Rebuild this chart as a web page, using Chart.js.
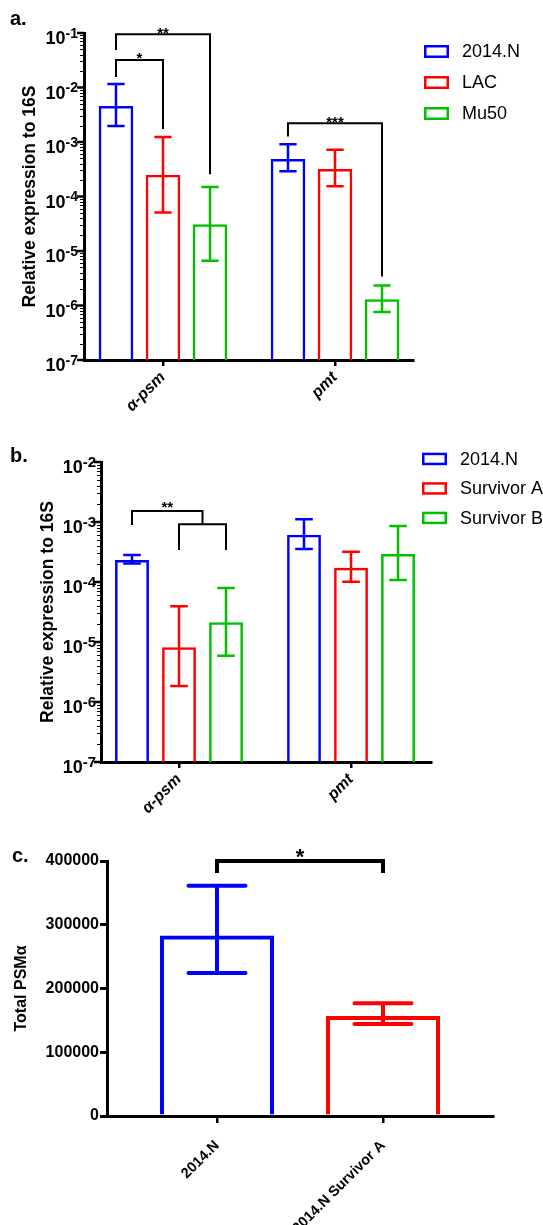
<!DOCTYPE html>
<html><head><meta charset="utf-8">
<script src="https://cdn.jsdelivr.net/npm/chart.js@4.4.1/dist/chart.umd.min.js"></script>
<style>
html,body{margin:0;padding:0;background:#fff;}
#wrap{position:relative;width:543px;height:1225px;overflow:hidden;background:#fff;}
canvas{position:absolute;left:0;}
</style></head><body>
<div id="wrap">
<canvas id="ca" width="543" height="430" style="top:0px"></canvas>
<canvas id="cb" width="543" height="420" style="top:410px"></canvas>
<canvas id="cc" width="543" height="425" style="top:800px"></canvas>
</div>
<script>
// ---------- Panel a data ----------
const genesA = ['α-psm', 'pmt'];
const strainsA = ['2014.N', 'LAC', 'Mu50'];
const a2014N = [4.6e-3, 4.9e-4];
const a2014NLow = [1.97e-3, 2.9e-4];
const a2014NHigh = [1.16e-2, 9.1e-4];
const aLAC = [2.5e-4, 3.2e-4];
const aLACLow = [5.1e-5, 1.55e-4];
const aLACHigh = [1.24e-3, 7.2e-4];
const aMu50 = [3.1e-5, 1.3e-6];
const aMu50Low = [6.6e-6, 7.6e-7];
const aMu50High = [1.5e-4, 2.34e-6];
const logTickExpA = [-7, -6, -5, -4, -3, -2, -1];
const bracketsA = [
  {label: '*', left: [0, 0], right: [0, 1], line: 3.2e-2, leftEnd: 1.56e-2, rightEnd: 1.74e-3},
  {label: '**', left: [0, 0], right: [0, 2], line: 9.5e-2, leftEnd: 4.9e-2, rightEnd: 2.57e-4},
  {label: '***', left: [1, 0], right: [1, 2], line: 2.2e-3, leftEnd: 1.26e-3, rightEnd: 3.4e-6}
];

// ---------- Panel b data ----------
const genesB = ['α-psm', 'pmt'];
const strainsB = ['2014.N', 'Survivor A', 'Survivor B'];
const b2014N = [2.33e-4, 6.15e-4];
const b2014NLow = [2.04e-4, 3.55e-4];
const b2014NHigh = [2.82e-4, 1.11e-3];
const bSurvA = [8.15e-6, 1.73e-4];
const bSurvALow = [1.85e-6, 1.01e-4];
const bSurvAHigh = [3.93e-5, 3.2e-4];
const bSurvB = [2.13e-5, 2.93e-4];
const bSurvBLow = [5.9e-6, 1.08e-4];
const bSurvBHigh = [7.94e-5, 8.58e-4];
const logTickExpB = [-7, -6, -5, -4, -3, -2];
const bracketsB = [
  {label: '', left: [0, 1], right: [0, 2], line: 9.16e-4, leftEnd: 3.41e-4, rightEnd: 3.41e-4},
  {label: '**', left: [0, 0], right: [0, [1, 2]], line: 1.52e-3, leftEnd: 8.9e-4, rightEnd: 9.16e-4}
];

// ---------- Panel c data ----------
const strainsC = ['2014.N', '2014.N Survivor A'];
const totalPSM = [283000, 157000];
const totalPSMLow = [224500, 144400];
const totalPSMHigh = [361000, 177000];
const ticksC = [0, 100000, 200000, 300000, 400000];
const bracketsC = [
  {label: '*', left: [0, 0], right: [1, 0], line: 400000, leftEnd: 381000, rightEnd: 381000}
];

const BLUE = '#0000FF', RED = '#FF0000', GREEN = '#00C000';
const FAM = '"Liberation Sans", Arial, Helvetica, sans-serif';
Chart.defaults.font.family = FAM;
Chart.defaults.color = '#000';

function xy(vals) { return vals.map((v, i) => ({x: i + 1, y: v})); }

function ds(label, vals, lo, hi, color, bw) {
  return {label, data: xy(vals), errLow: lo, errHigh: hi, backgroundColor: 'rgba(255,255,255,0)',
    borderColor: color, borderWidth: bw, borderSkipped: 'start'};
}

function catAxis(cats, min, max, height, font, pad, tickLen) {
  return {
    type: 'linear', min, max, offset: false,
    afterBuildTicks(s) { s.ticks = cats.map((c, i) => ({value: i + 1})); },
    afterFit(s) { s.height = height; },
    ticks: {autoSkip: false, maxRotation: 45, minRotation: 45, color: '#000', font, padding: pad,
      callback: (v) => cats[Math.round(v) - 1] ?? ''},
    grid: {display: true, drawOnChartArea: false, drawTicks: true, tickLength: tickLen, tickWidth: 2.5,
      tickColor: '#000', lineWidth: 2.5, color: '#000', offset: false},
    border: {display: true, width: 3, color: '#000'}
  };
}

function logAxis(min, max, width, titlePad) {
  return {
    type: 'logarithmic', min, max,
    afterFit(s) { s.width = width; },
    ticks: {display: false},
    grid: {display: false},
    border: {display: true, width: 3, color: '#000'},
    title: {display: true, text: 'Relative expression to 16S', color: '#000',
      font: {size: 17.5, weight: 'bold'}, padding: {top: titlePad, bottom: 0}}
  };
}

function colorAt(c, i) { return Array.isArray(c) ? c[i % c.length] : c; }

// decorations: error bars, brackets, log tick labels, legend, panel letter
function makeDecor(cfg) {
  return {
    id: 'decor',
    afterDatasetsDraw(chart) {
      const ctx = chart.ctx, y = chart.scales.y;
      // error bars
      chart.data.datasets.forEach((d, di) => {
        const meta = chart.getDatasetMeta(di);
        meta.data.forEach((bar, i) => {
          const x = bar.x, w = bar.width * cfg.capFrac;
          const yl = y.getPixelForValue(d.errLow[i]), yh = y.getPixelForValue(d.errHigh[i]);
          ctx.save();
          ctx.strokeStyle = colorAt(d.borderColor, i); ctx.lineWidth = cfg.errWidth; ctx.lineCap = cfg.cap || 'butt';
          ctx.beginPath();
          ctx.moveTo(x, yl); ctx.lineTo(x, yh);
          ctx.moveTo(x - w / 2, yl); ctx.lineTo(x + w / 2, yl);
          ctx.moveTo(x - w / 2, yh); ctx.lineTo(x + w / 2, yh);
          ctx.stroke(); ctx.restore();
        });
      });
      // brackets
      const xOf = (ref) => {
        const cat = ref[0], list = Array.isArray(ref[1]) ? ref[1] : [ref[1]];
        let s = 0; list.forEach(k => { s += chart.getDatasetMeta(k).data[cat].x; });
        return s / list.length;
      };
      cfg.brackets.forEach(b => {
        const x1 = xOf(b.left), x2 = xOf(b.right);
        const yl = y.getPixelForValue(b.line), y1 = y.getPixelForValue(b.leftEnd), y2 = y.getPixelForValue(b.rightEnd);
        ctx.save();
        ctx.strokeStyle = '#000'; ctx.lineWidth = cfg.brWidth; ctx.lineJoin = 'miter'; ctx.lineCap = 'butt';
        ctx.beginPath(); ctx.moveTo(x1, y1); ctx.lineTo(x1, yl); ctx.lineTo(x2, yl); ctx.lineTo(x2, y2); ctx.stroke();
        if (b.label) {
          ctx.fillStyle = '#000'; ctx.font = cfg.starFont; ctx.textAlign = 'center'; ctx.textBaseline = 'alphabetic';
          ctx.fillText(b.label, (x1 + x2) / 2, yl + cfg.starDy);
        }
        ctx.restore();
      });
    },
    afterDraw(chart) {
      const ctx = chart.ctx, y = chart.scales.y, x0 = chart.chartArea.left;
      ctx.save();
      ctx.fillStyle = '#000'; ctx.strokeStyle = '#000';
      if (cfg.logExp) {
        const ex = cfg.logExp;
        for (let e = ex[0]; e < ex[ex.length - 1]; e++) {
          for (let m = 2; m <= 9; m++) {
            const py = Math.round(y.getPixelForValue(m * Math.pow(10, e))) + 0.5;
            ctx.lineWidth = 1;
            ctx.beginPath(); ctx.moveTo(x0 - 4, py); ctx.lineTo(x0, py); ctx.stroke();
          }
        }
        ex.forEach(e => {
          const py = y.getPixelForValue(Math.pow(10, e));
          ctx.lineWidth = 2.5;
          ctx.beginPath(); ctx.moveTo(x0 - 7, py); ctx.lineTo(x0, py); ctx.stroke();
          const sup = '-' + Math.abs(e);
          const xr = x0 - cfg.labelGap;
          ctx.textAlign = 'right'; ctx.textBaseline = 'alphabetic';
          ctx.font = 'bold ' + cfg.supSize + 'px ' + FAM;
          const sw = ctx.measureText(sup).width;
          ctx.fillText(sup, xr, py + cfg.supDy);
          ctx.font = 'bold ' + cfg.baseSize + 'px ' + FAM;
          ctx.fillText('10', xr - sw, py + cfg.baseDy);
        });
      }
      // legend
      if (cfg.legend) {
        const L = cfg.legend;
        chart.data.datasets.forEach((d, i) => {
          const top = L.y + i * L.gap;
          ctx.lineWidth = 2.5; ctx.strokeStyle = d.borderColor;
          ctx.strokeRect(L.x + 1.25, top + 1.25, L.w - 2.5, L.h - 2.5);
          ctx.fillStyle = '#000'; ctx.font = '18px ' + FAM; ctx.textAlign = 'left'; ctx.textBaseline = 'middle';
          ctx.fillText(d.label, L.tx, top + L.h / 2 + 1);
        });
      }
      // panel letter
      ctx.fillStyle = '#000'; ctx.font = 'bold 20px ' + FAM; ctx.textAlign = 'left'; ctx.textBaseline = 'alphabetic';
      ctx.fillText(cfg.letter[0], cfg.letter[1], cfg.letter[2]);
      ctx.restore();
    }
  };
}

const common = {responsive: false, animation: false, events: [], devicePixelRatio: 1};

// ---------- Chart a ----------
new Chart(document.getElementById('ca'), {
  type: 'bar',
  data: {datasets: [
    ds(strainsA[0], a2014N, a2014NLow, a2014NHigh, BLUE, 2.5),
    ds(strainsA[1], aLAC, aLACLow, aLACHigh, RED, 2.5),
    ds(strainsA[2], aMu50, aMu50Low, aMu50High, GREEN, 2.5)
  ]},
  options: Object.assign({}, common, {
    layout: {padding: {left: 0, top: 33, right: 130, bottom: 0}},
    datasets: {bar: {categoryPercentage: 0.82, barPercentage: 0.736}},
    plugins: {legend: {display: false}, tooltip: {enabled: false}},
    scales: {
      x: catAxis(genesA, 0.5407, 2.4535, 70, {size: 16, weight: 'bold', style: 'italic'}, 2, 6),
      y: logAxis(1e-7, 1e-1, 84, 19.5)
    }
  }),
  plugins: [makeDecor({capFrac: 0.5, errWidth: 2.5, brackets: bracketsA, brWidth: 2, starFont: 'bold 15px ' + FAM, starDy: 3.5,
    logExp: logTickExpA, labelGap: 6, supSize: 14, supDy: 4.5, baseSize: 18, baseDy: 11,
    legend: {x: 424, y: 45, w: 25, h: 13, gap: 31, tx: 462}, letter: ['a.', 10, 25]})]
});

// ---------- Chart b ----------
new Chart(document.getElementById('cb'), {
  type: 'bar',
  data: {datasets: [
    ds(strainsB[0], b2014N, b2014NLow, b2014NHigh, BLUE, 2.5),
    ds(strainsB[1], bSurvA, bSurvALow, bSurvAHigh, RED, 2.5),
    ds(strainsB[2], bSurvB, bSurvBLow, bSurvBHigh, GREEN, 2.5)
  ]},
  options: Object.assign({}, common, {
    layout: {padding: {left: 0, top: 52, right: 112, bottom: 0}},
    datasets: {bar: {categoryPercentage: 0.82, barPercentage: 0.72}},
    plugins: {legend: {display: false}, tooltip: {enabled: false}},
    scales: {
      x: catAxis(genesB, 0.5465, 2.465, 68, {size: 16, weight: 'bold', style: 'italic'}, 2, 6),
      y: logAxis(1e-7, 1e-2, 101, 38)
    }
  }),
  plugins: [makeDecor({capFrac: 0.52, errWidth: 2.5, brackets: bracketsB, brWidth: 2, starFont: 'bold 15px ' + FAM, starDy: 1,
    logExp: logTickExpB, labelGap: 5, supSize: 15, supDy: 4.5, baseSize: 18, baseDy: 11,
    legend: {x: 422, y: 42.7, w: 25, h: 12.5, gap: 29.5, tx: 460}, letter: ['b.', 10, 51.7]})]
});

// ---------- Chart c ----------
const dsC = ds('Total PSMα', totalPSM, totalPSMLow, totalPSMHigh, [BLUE, RED], 4);
new Chart(document.getElementById('cc'), {
  type: 'bar',
  data: {datasets: [dsC]},
  options: Object.assign({}, common, {
    layout: {padding: {left: 0, top: 61, right: 50, bottom: 0}},
    datasets: {bar: {categoryPercentage: 1, barPercentage: 0.687}},
    plugins: {legend: {display: false}, tooltip: {enabled: false}},
    scales: {
      x: catAxis(strainsC, 0.3373, 2.6627, 109, {size: 14.5, weight: 'bold'}, 14, 7),
      y: {
        type: 'linear', min: 0, max: 400000,
        afterBuildTicks(s) { s.ticks = ticksC.map(v => ({value: v})); },
        afterFit(s) { s.width = 107; },
        ticks: {color: '#000', font: {size: 16, weight: 'bold'}, padding: 1, callback: (v) => String(v)},
        grid: {drawOnChartArea: false, drawTicks: true, tickLength: 7, tickWidth: 3, tickColor: '#000', lineWidth: 3, color: '#000'},
        border: {display: true, width: 3, color: '#000'},
        title: {display: true, text: 'Total PSMα', color: '#000', font: {size: 16, weight: 'bold'}, padding: {top: 12, bottom: 0}}
      }
    }
  }),
  plugins: [makeDecor({capFrac: 0.5, errWidth: 4, cap: 'round', brackets: bracketsC, brWidth: 4, starFont: 'bold 22px ' + FAM, starDy: 3,
    logExp: null, letter: ['c.', 12, 61.7]})]
});
</script>
</body></html>
